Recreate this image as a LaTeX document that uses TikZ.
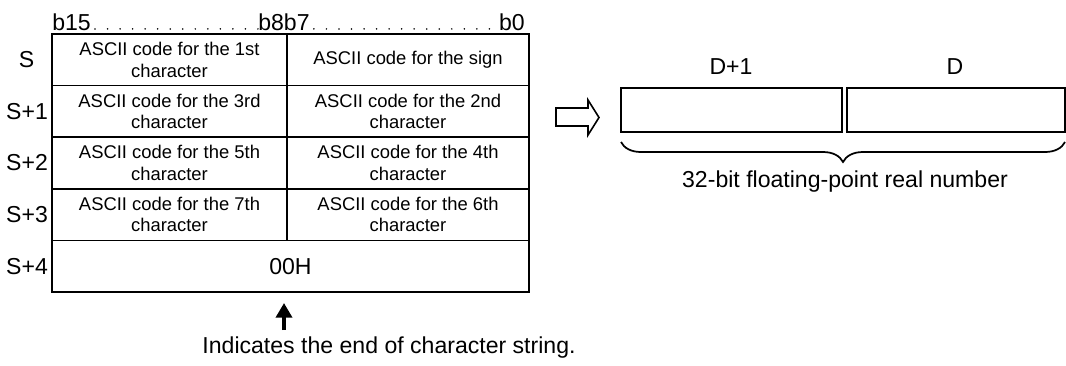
\documentclass[tikz,border=0pt]{standalone}
\usepackage{fontspec}
\setmainfont{Liberation Sans}
\usetikzlibrary{arrows.meta,decorations.pathreplacing}
\begin{document}
\begin{tikzpicture}[x=0.75pt,y=-0.75pt,
  cell/.style={draw,line width=1.3pt,inner sep=0pt,align=center,
    minimum height=38.7pt,font=\fontsize{13.8}{16}\selectfont},
  lcol/.style={cell,minimum width=176.25pt},
  rcol/.style={cell,minimum width=181.5pt},
  lab/.style={inner sep=0pt,font=\fontsize{17.3}{20}\selectfont},
  dots/.style={line width=1.3pt,line cap=round,dash pattern=on 0pt off 9.4pt},
  dbox/.style={draw,line width=1.3pt,inner sep=0pt,minimum height=33pt},
]
\useasboundingbox (0,0) rectangle (1066,365);
% table
\node[lcol] (a1) at (169.5,59.8) {ASCII code for the 1st\\character};
\node[rcol] (b1) at (408,59.8) {ASCII code for the sign};
\node[lcol] (a2) at (169.5,111.4) {ASCII code for the 3rd\\character};
\node[rcol] (b2) at (408,111.4) {ASCII code for the 2nd\\character};
\node[lcol] (a3) at (169.5,163.0) {ASCII code for the 5th\\character};
\node[rcol] (b3) at (408,163.0) {ASCII code for the 4th\\character};
\node[lcol] (a4) at (169.5,214.6) {ASCII code for the 7th\\character};
\node[rcol] (b4) at (408,214.6) {ASCII code for the 6th\\character};
\node[cell,minimum width=357.75pt,font=\fontsize{17.3}{20}\selectfont] (a5) at (290.5,266.2) {00H};
% row labels
\node[lab] (s0) at (26.5,59.8) {S};
\node[lab] (s1) at (27,111.4) {S+1};
\node[lab] (s2) at (27,163.0) {S+2};
\node[lab] (s3) at (27,214.6) {S+3};
\node[lab] (s4) at (27,266.2) {S+4};
% bit header
\node[lab,anchor=west] (b15) at (52,22) {b15};
\node[lab] (b87) at (284,22) {b8b7};
\node[lab,anchor=east] (b0) at (525,22) {b0};
\draw[dots] ([xshift=3pt,yshift=1pt]b15.base east) -- ([yshift=1pt]b87.base west);
\draw[dots] ([xshift=3pt,yshift=1pt]b87.base east) -- ([yshift=1pt]b0.base west);
% end arrow
\coordinate (tA) at (284,330);
\coordinate (tB) at (284,303);
\draw[line width=2.7pt,-{Triangle[width=12pt,length=11pt]}] (tA) -- (tB);
\node[lab] (note) at (389,348) {Indicates the end of character string.};
% hollow arrow
\draw[line width=1.2pt,line join=miter] (556,108) -- (588,108) -- (588,100) -- (599,117.5) -- (588,135) -- (588,126) -- (556,126) -- cycle;
% D boxes
\node[dbox,minimum width=165.75pt] (d1) at (731.5,110) {};
\node[dbox,minimum width=163.5pt] (d0) at (956,110) {};
\node[lab] (ld1) at (731,67) {D+1};
\node[lab] (ld0) at (955,67) {D};
\coordinate (brR) at (1065,142);
\coordinate (brL) at (621,142);
\draw[line width=1.3pt,decorate,decoration={brace,amplitude=15pt}] (brR) -- (brL);
\node[lab] (real) at (845,182) {32-bit floating-point real number};
\end{tikzpicture}
\end{document}
